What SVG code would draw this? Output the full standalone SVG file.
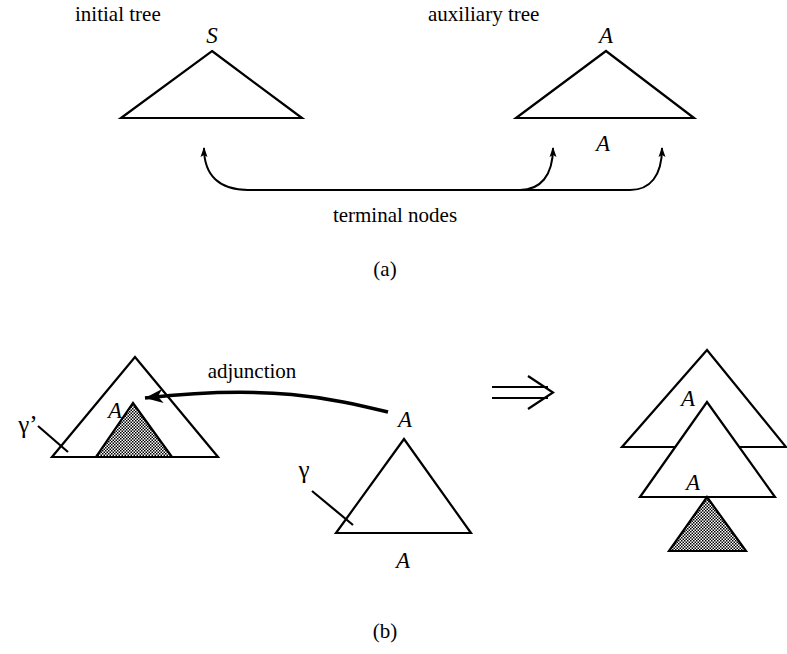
<svg xmlns="http://www.w3.org/2000/svg" width="787" height="654" viewBox="0 0 787 654">
<style>
.t{font-family:"Liberation Serif","Times New Roman",serif;font-size:21px;fill:#000}
.i{font-family:"Liberation Serif","Times New Roman",serif;font-size:23px;font-style:italic;fill:#000}
.g{font-family:"Liberation Serif","Times New Roman",serif;font-size:25px;fill:#000}
.tri{fill:#fff;stroke:#000;stroke-width:2.2;stroke-linejoin:miter}
.sh{fill:url(#hatch);stroke:#000;stroke-width:2.2}
.ln{fill:none;stroke:#000;stroke-width:2.2}
.c{fill:none;stroke:#000;stroke-width:2}
</style>
<defs>
<pattern id="hatch" width="3" height="3" patternUnits="userSpaceOnUse">
<rect width="3" height="3" fill="#fff"/>
<rect width="1.5" height="1.5" fill="#000"/>
<rect x="1.5" y="1.5" width="1.5" height="1.5" fill="#000"/>
</pattern>
<marker id="up" markerWidth="10" markerHeight="8" refX="9" refY="4" orient="auto" markerUnits="userSpaceOnUse">
<path d="M0,0.5 L10,4 L0,7.5 L2,4 Z" fill="#000"/>
</marker>
<marker id="adj" markerWidth="20" markerHeight="14" refX="18" refY="7" orient="auto" markerUnits="userSpaceOnUse">
<path d="M0,0 L18,7 L0,14 L5,7 Z" fill="#000"/>
</marker>
</defs>

<g id="label-initial"><text class="t" x="75" y="21">initial tree</text></g>
<g id="label-auxiliary"><text class="t" x="428" y="21">auxiliary tree</text></g>

<g id="initial-tree">
<polygon class="tri" points="212,51 302,118 121,118"/>
<text class="i" x="212" y="43" text-anchor="middle">S</text>
</g>
<g id="auxiliary-tree">
<polygon class="tri" points="606,51 694,118 516,118"/>
<text class="i" x="606" y="43" text-anchor="middle">A</text>
<text class="i" x="603" y="151" text-anchor="middle">A</text>
</g>

<g id="label-terminal"><text class="t" x="395" y="222" text-anchor="middle">terminal nodes</text></g>
<g id="label-a"><text class="t" x="385" y="276" text-anchor="middle">(a)</text></g>

<g id="target-tree">
<polygon class="tri" points="135,357 218,457 52,457"/>
<polygon class="sh" points="133,403 172,457 96,457"/>
<text class="i" x="115" y="418" text-anchor="middle">A</text>
<text class="g" x="28" y="433" text-anchor="middle">γ’</text>
</g>
<g id="label-adjunction"><text class="t" x="252" y="378" text-anchor="middle">adjunction</text></g>

<g id="aux-tree-b">
<text class="i" x="405" y="427" text-anchor="middle">A</text>
<polygon class="tri" points="404,439 471,533 336,533"/>
<text class="i" x="403" y="568" text-anchor="middle">A</text>
<text class="g" x="304" y="478" text-anchor="middle">γ</text>
</g>

<g id="result-tree">
<polygon class="tri" points="707,350 786,447 622,447"/>
<text class="i" x="688" y="406" text-anchor="middle">A</text>
<polygon class="tri" points="707,402 775,497 640,497"/>
<text class="i" x="693" y="490" text-anchor="middle">A</text>
<polygon class="sh" points="707,497 746,551 669,551"/>
</g>
<g id="label-b"><text class="t" x="385" y="638" text-anchor="middle">(b)</text></g>

<g id="connectors">
<path class="c" d="M520,190 L248,190 C220,190 204,176 204,148" marker-end="url(#up)"/>
<path class="c" d="M520,190 C540,190 553,176 553,148" marker-end="url(#up)"/>
<path class="c" d="M520,190 L630,190 C650,190 662,176 662,148" marker-end="url(#up)"/>
<path d="M388,412 C330,398 270,384 145,398" fill="none" stroke="#000" stroke-width="3.5" marker-end="url(#adj)"/>
<path class="ln" d="M492,387 L548,387 M492,398 L548,398"/>
<path class="ln" d="M528,376 L553,392.5 L528,409"/>
<line class="ln" x1="38" y1="426" x2="68" y2="452"/>
<line class="ln" x1="312" y1="491" x2="353" y2="525"/>
</g>
</svg>
